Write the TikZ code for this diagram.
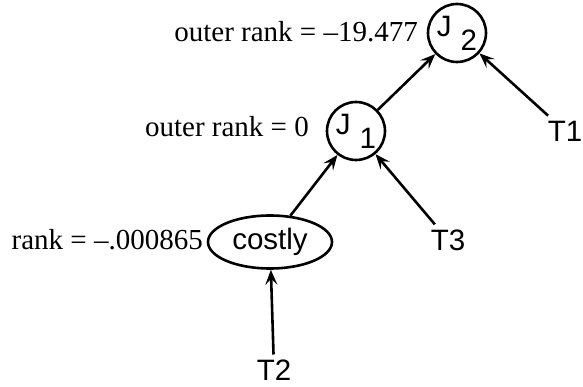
\documentclass[tikz,border=0pt]{standalone}
\usepackage{fontspec}
\setmainfont{Liberation Serif}
\newfontfamily\helv{Liberation Sans}
\usetikzlibrary{arrows.meta,shapes.geometric}
\begin{document}
\begin{tikzpicture}[x=1pt,y=-1pt,
  lbl/.style={font=\fontsize{29}{32}\selectfont, inner sep=0},
  hv/.style={font=\helv\fontsize{29.5}{32}\selectfont},
  joinnode/.style={hv, circle, draw, line width=2.6pt, minimum size=58pt, inner sep=0, text height=19pt, text depth=11pt},
  costnode/.style={hv, ellipse, draw, line width=2.6pt, minimum width=124pt, minimum height=53pt, inner sep=0},
  leaf/.style={hv, inner sep=5pt},
  edge/.style={line width=2.6pt, -{Stealth[open, length=15pt, width=12pt, inset=6pt, line width=2.2pt]}},
]
\useasboundingbox (0,0) rectangle (583,387);
\node[joinnode] (j2) at (457,33) {J\hspace{9pt}\raisebox{-14pt}{2}};
\node[joinnode] (j1) at (356,131) {J\hspace{9pt}\raisebox{-14pt}{1}};
\node[costnode] (costly) at (270,242) {costly};
\node[leaf] (t1) at (565,131) {T1};
\node[leaf] (t3) at (448,240) {T3};
\node[leaf] (t2) at (274,370) {T2};
\node[lbl, anchor=base east] (l2) at (418,42) {outer rank = --19.477};
\node[lbl, anchor=base east] (l1) at (309,137) {outer rank = 0};
\node[lbl, anchor=base east] (l0) at (203,250) {rank = --.000865};
\draw[edge] (t2) -- (costly);
\draw[edge] (t3) -- (j1);
\draw[edge] (costly) -- (j1);
\draw[edge] (j1) -- (j2);
\draw[edge] (t1) -- (j2);
\end{tikzpicture}
\end{document}
